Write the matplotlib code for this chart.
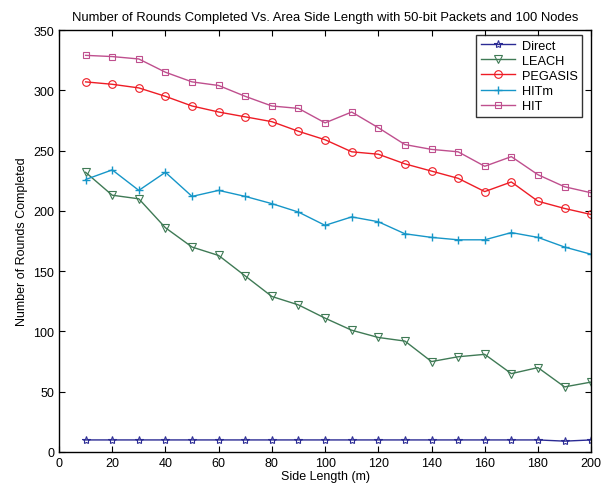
import numpy as np
import matplotlib as mpl
mpl.use('Agg')
import matplotlib.pyplot as plt

plt.rcParams['font.family'] = ['Liberation Sans', 'DejaVu Sans']

side_length = [10, 20, 30, 40, 50, 60, 70, 80, 90, 100,
               110, 120, 130, 140, 150, 160, 170, 180, 190, 200]

direct = [10, 10, 10, 10, 10, 10, 10, 10, 10, 10,
          10, 10, 10, 10, 10, 10, 10, 10, 9, 10]
leach = [232, 213, 210, 186, 170, 163, 146, 129, 122, 111,
         101, 95, 92, 75, 79, 81, 65, 70, 54, 58]
pegasis = [307, 305, 302, 295, 287, 282, 278, 274, 266, 259,
           249, 247, 239, 233, 227, 216, 224, 208, 202, 197]
hitm = [226, 234, 217, 232, 212, 217, 212, 206, 199, 188,
        195, 191, 181, 178, 176, 176, 182, 178, 170, 164]
hit = [329, 328, 326, 315, 307, 304, 295, 287, 285, 273,
       282, 269, 255, 251, 249, 237, 245, 230, 220, 215]

fig = plt.figure(figsize=(6.02, 4.85), dpi=100)
ax = fig.add_axes([0.098, 0.066, 0.884, 0.870])

ax.plot(side_length, direct, color='#2b2b94', marker='*', ms=6, mfc='none', mew=0.8, lw=1, label='Direct')
ax.plot(side_length, leach, color='#3f7a55', marker='v', ms=6, mfc='none', mew=0.8, lw=1, label='LEACH')
ax.plot(side_length, pegasis, color='#ee1c25', marker='o', ms=5.5, mfc='none', mew=0.8, lw=1, label='PEGASIS')
ax.plot(side_length, hitm, color='#1696c8', marker='+', ms=6, mfc='none', mew=1, lw=1, label='HITm')
ax.plot(side_length, hit, color='#bf4f8e', marker='s', ms=4.5, mfc='none', mew=0.8, lw=1, label='HIT')

ax.set_xlim(0, 200)
ax.set_ylim(0, 350)
ax.set_xticks(np.arange(0, 201, 20))
ax.set_yticks(np.arange(0, 351, 50))
ax.tick_params(direction='in', labelsize=9, top=True, right=True, length=4)
for s in ax.spines.values():
    s.set_linewidth(1)

ax.set_xlabel('Side Length (m)', fontsize=9, labelpad=1)
ax.set_ylabel('Number of Rounds Completed', fontsize=9)
ax.set_title('Number of Rounds Completed Vs. Area Side Length with 50-bit Packets and 100 Nodes',
             fontsize=9.4, pad=7)

leg = ax.legend(loc='upper right', bbox_to_anchor=(0.983, 0.988), fontsize=9.2,
                fancybox=False, edgecolor='black', borderaxespad=0,
                handlelength=2.7, labelspacing=0.25,
                borderpad=0.35, handletextpad=0.5)
leg.get_frame().set_linewidth(1)

fig.savefig('out.png', dpi=100)
